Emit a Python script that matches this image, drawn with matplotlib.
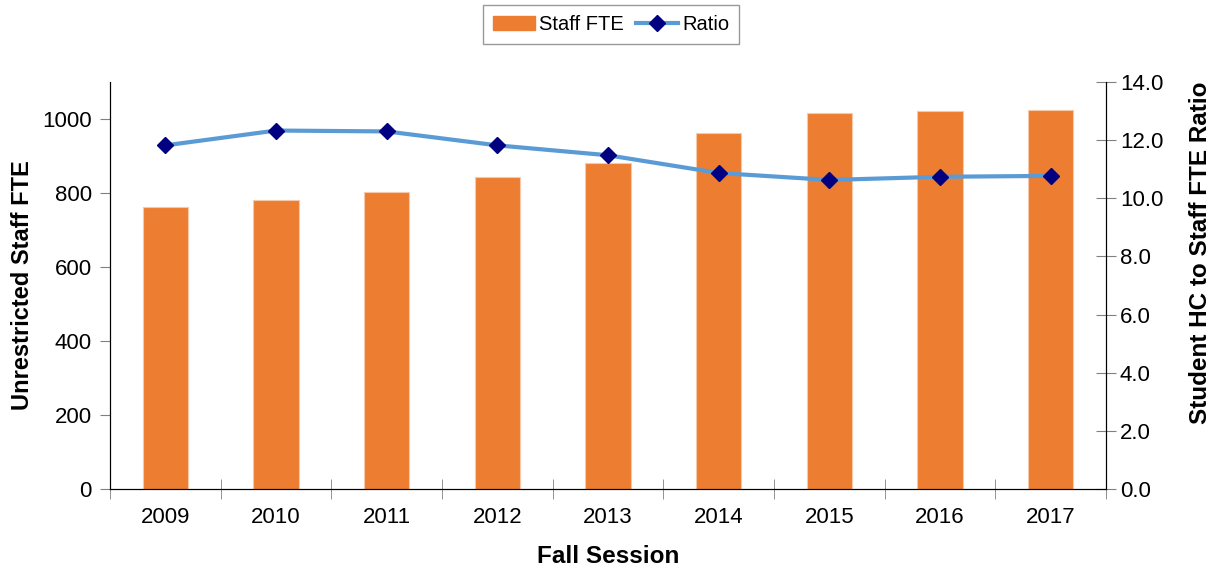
import matplotlib.pyplot as plt
import numpy as np
from matplotlib.lines import Line2D
from matplotlib.patches import Patch

plt.rcParams['font.family'] = ['Liberation Sans', 'DejaVu Sans']

years = ["2009", "2010", "2011", "2012", "2013", "2014", "2015", "2016", "2017"]
staff_fte = [762, 781, 803, 844, 881, 961, 1016, 1022, 1025]
ratio = [11.82, 12.33, 12.30, 11.82, 11.48, 10.87, 10.63, 10.74, 10.77]

bar_color = "#ED7D31"
line_color = "#5B9BD5"
marker_color = "#000080"

fig = plt.figure(figsize=(12.13, 5.69), dpi=100)
ax = fig.add_axes([0.0907, 0.1406, 0.8211, 0.7153])
x = np.arange(len(years))

ax.bar(x, staff_fte, width=0.41, color=bar_color, edgecolor="#F8C9A8", linewidth=0.8, zorder=2)
ax.set_xlim(-0.5, len(years) - 0.5)
ax.set_ylim(0, 1100)
ax.set_yticks([0, 200, 400, 600, 800, 1000])
ax.tick_params(axis="y", direction="out", length=7, color="#808080", labelsize=16, pad=6)
ax.set_xticks(x)
ax.set_xticklabels(years, fontsize=16)
ax.tick_params(axis="x", which="major", length=0, pad=13)
ax.set_xticks(np.arange(len(years) + 1) - 0.5, minor=True)
ax.tick_params(axis="x", which="minor", direction="inout", length=14, color="#808080")
ax.spines["top"].set_visible(False)
ax.set_ylabel("Unrestricted Staff FTE", fontsize=17, fontweight="bold")
ax.yaxis.set_label_coords(-0.076, 0.5)
ax.set_xlabel("Fall Session", fontsize=17.5, fontweight="bold", labelpad=12)

ax2 = ax.twinx()
ax2.plot(x, ratio, color=line_color, linewidth=3, marker="D", markersize=8,
         markerfacecolor=marker_color, markeredgecolor=marker_color, zorder=3)
ax2.set_ylim(0, 14)
ax2.set_yticks(np.arange(0, 14.1, 2))
ax2.set_yticklabels([f"{v:.1f}" for v in np.arange(0, 14.1, 2)])
ax2.tick_params(axis="y", direction="inout", length=14, color="#808080", labelsize=16, pad=3)
ax2.spines["top"].set_visible(False)
ax2.set_ylabel("Student HC to Staff FTE Ratio", fontsize=17.5, fontweight="bold")
ax2.yaxis.set_label_coords(1.083, 0.58)

handles = [Patch(facecolor=bar_color, edgecolor=bar_color),
           Line2D([0], [0], color=line_color, linewidth=3, marker="D", markersize=8,
                  markerfacecolor=marker_color, markeredgecolor=marker_color)]
leg = fig.legend(handles, ["Staff FTE", "Ratio"], loc="upper center", bbox_to_anchor=(0.5037, 0.991),
                 ncol=2, fontsize=14.5, frameon=True, fancybox=False, edgecolor="#808080",
                 handlelength=2.1, handletextpad=0.2, columnspacing=0.6, borderpad=0.5,
                 borderaxespad=0)
leg.get_frame().set_linewidth(1.0)

fig.savefig("out.png", dpi=100)
